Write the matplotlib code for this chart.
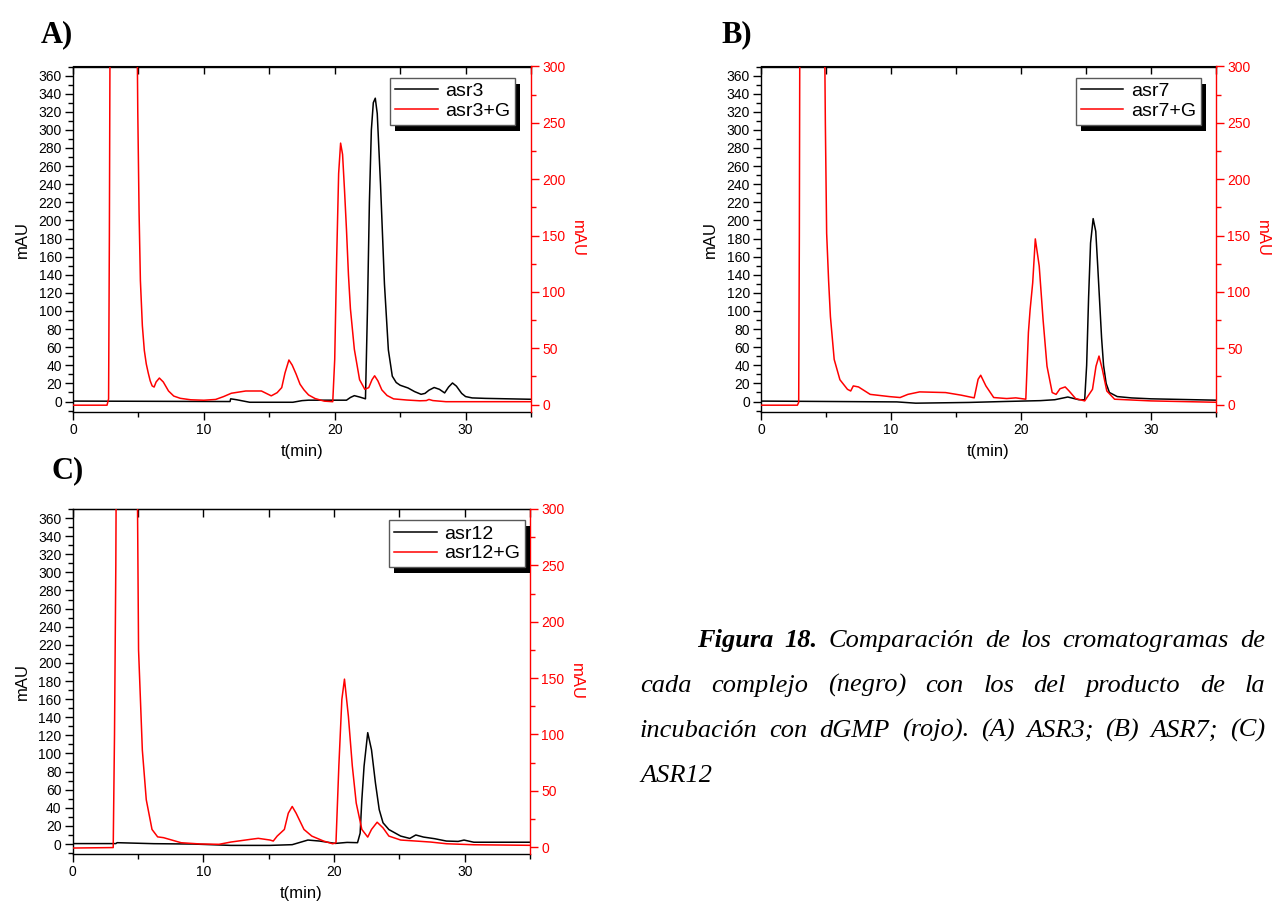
import numpy as np
import matplotlib
matplotlib.use("Agg")
import matplotlib.pyplot as plt
from matplotlib.patches import Rectangle
from matplotlib.ticker import MultipleLocator
from matplotlib.transforms import IdentityTransform

W, H = 1274, 906

plt.rcParams['font.family'] = ['Liberation Sans', 'DejaVu Sans']

# --- panel A: asr3 ---
A_t_black = [0, 12.0, 12.05, 12.5, 13.5, 16.8, 17.5, 18.0, 20.9, 21.2, 21.5, 21.9, 22.35, 22.5, 22.65,
             22.8, 22.95, 23.1, 23.25, 23.5, 23.8, 24.1, 24.4, 24.7, 25.0, 25.6, 26.1, 26.6, 26.9, 27.2,
             27.6, 28.0, 28.4, 28.7, 29.0, 29.3, 29.7, 30.0, 30.5, 31.5, 35.0]
A_black = [0.5, 0.0, 3.0, 2.0, -0.8, -0.8, 1.0, 1.5, 1.5, 4.5, 6.5, 5.0, 3.0, 100, 220,
           300, 330, 335, 318, 240, 130, 57, 28, 21, 18, 15, 11, 8, 9, 12.5,
           15.5, 13.5, 9.5, 16, 20.5, 17, 9, 5.5, 4, 3.5, 2.5]
A_t_red = [0, 2.6, 2.72, 2.78, 2.85, 4.85, 4.95, 5.05, 5.15, 5.3, 5.45, 5.6, 5.75, 5.9, 6.05, 6.2,
           6.35, 6.6, 6.9, 7.3, 7.7, 8.2, 9.0, 10.0, 10.9, 11.5, 12.1, 13.2, 14.4, 15.15, 15.6,
           15.95, 16.2, 16.5, 16.75, 17.05, 17.35, 17.65, 18.0, 18.5, 19.2, 19.85, 20.0, 20.15,
           20.3, 20.45, 20.6, 20.75, 20.9, 21.05, 21.2, 21.5, 21.9, 22.3, 22.6, 22.85, 23.05,
           23.3, 23.6, 24.0, 24.5, 25.5, 26.5, 27.0, 27.2, 27.5, 28.5, 35.0]
A_red = [-0.6, -0.6, 5, 150, 400, 400, 260, 170, 110, 70, 48, 36, 28, 21, 16.5, 15.5,
         20, 23.5, 20, 12, 7.5, 5.5, 4.2, 3.8, 4.5, 7, 10, 12, 12, 7.7, 10.5,
         15, 28, 39.5, 35, 27, 18, 13, 8.5, 5.3, 3, 2.5, 40, 130,
         205, 232, 222, 190, 155, 115, 85, 49, 22, 13.5, 15, 22, 25.5,
         21, 13, 8, 5, 4, 3.3, 3.5, 4.5, 3.5, 2.5, 2.5]

# --- panel B: asr7 ---
B_t_black = [0, 10.45, 11.9, 16.0, 18.6, 21.5, 22.6, 23.6, 24.45, 24.9, 25.05, 25.2, 25.35, 25.55,
             25.75, 25.9, 26.05, 26.2, 26.35, 26.55, 26.8, 27.4, 28.5, 30.0, 35.0]
B_black = [0.5, -0.4, -1.8, -1.0, 0.0, 1.0, 2.0, 5.0, 2.0, 2.0, 40, 115, 175, 202,
           188, 150, 110, 70, 40, 20, 10, 5.5, 4, 3, 1.5]
B_t_red = [0, 2.8, 2.9, 2.95, 3.0, 4.84, 4.95, 5.05, 5.2, 5.34, 5.63, 6.07, 6.65, 6.9, 7.1, 7.5,
           8.4, 9.9, 10.7, 11.3, 12.2, 14.2, 15.4, 16.4, 16.7, 16.9, 17.3, 17.9, 18.9, 19.6,
           20.37, 20.57, 20.7, 20.9, 21.1, 21.4, 21.7, 22.0, 22.4, 22.7, 23.0, 23.4, 23.7,
           24.2, 24.9, 25.5, 25.77, 26.0, 26.26, 26.6, 27.2, 30.0, 35.0]
B_red = [-0.6, -0.6, 2, 150, 400, 400, 250, 152, 110, 78, 40, 22, 13.5, 12, 16.5, 15.6,
         9, 7, 6.2, 9, 11.2, 10.6, 8.3, 5.9, 22.4, 26, 16.5, 6.2, 5.3, 5.9,
         4.7, 64, 84, 108, 147, 123, 75, 34, 10.6, 9, 14, 15.6, 12,
         5.3, 3.2, 13.5, 34, 43, 31, 12, 4.7, 3.2, 2.0]

# --- panel C: asr12 ---
C_t_black = [0, 3.3, 3.4, 6.2, 9.2, 12.1, 15.1, 16.8, 18.0, 18.9, 20.1, 21.0, 21.8, 22.0, 22.13,
             22.3, 22.58, 22.87, 23.17, 23.46, 23.75, 24.2, 25.1, 25.8, 26.26, 26.85, 27.7, 28.6,
             29.5, 29.95, 30.7, 35.0]
C_black = [0.5, 0.5, 1.5, 0.4, 0.0, -1.5, -1.5, -0.7, 4.4, 3.3, 0.7, 1.8, 1.5, 12, 49,
           86, 123, 104, 67.5, 38, 23.5, 16, 8.8, 6.2, 10, 7.7, 5.9, 3.3,
           2.9, 4.4, 2.0, 2.0]
C_t_red = [0, 3.1, 3.2, 3.3, 3.36, 4.9, 5.04, 5.33, 5.63, 6.07, 6.5, 6.95, 7.4, 8.3, 9.75, 11.2,
           12.1, 13.6, 14.2, 15.1, 15.35, 15.65, 16.2, 16.5, 16.8, 17.1, 17.7, 18.3, 19.2, 19.9,
           20.15, 20.37, 20.6, 20.8, 21.1, 21.4, 21.7, 22.13, 22.58, 22.87, 23.3, 23.75, 24.2,
           25.1, 26.26, 27.4, 28.6, 30.7, 35.0]
C_red = [-0.9, -0.5, 100, 250, 400, 400, 175, 86, 42, 15.6, 9, 8.3, 6.8, 3.8, 2.7, 2.4,
         4.4, 6.8, 7.7, 6.2, 5.3, 9.7, 15.6, 30, 36, 30, 15.6, 9.7, 5.3, 2.9,
         3.8, 72, 131, 149, 116, 72, 39, 15.6, 8.8, 15.6, 22, 17, 9.7,
         6.2, 5.3, 4.4, 2.9, 2.0, 1.5]

fig = plt.figure(figsize=(W / 100, H / 100), dpi=100)


def px_rect(x0, y0, x1, y1):
    return [x0 / W, 1 - y1 / H, (x1 - x0) / W, (y1 - y0) / H]


def draw_panel(rect, t_b, y_b, t_r, y_r, names):
    ax = fig.add_axes(rect)
    ax2 = ax.twinx()
    lb, = ax.plot(t_b, y_b, color='black', lw=1.1)
    lr, = ax2.plot(t_r, y_r, color='red', lw=1.1)

    ax.set_xlim(0, 35)
    ax.set_ylim(-11, 370)
    ax2.set_ylim(-6.2, 300)

    ax.xaxis.set_major_locator(MultipleLocator(10))
    ax.xaxis.set_minor_locator(MultipleLocator(5))
    ax.yaxis.set_major_locator(MultipleLocator(20))
    ax.yaxis.set_minor_locator(MultipleLocator(10))
    ax2.yaxis.set_major_locator(MultipleLocator(50))
    ax2.yaxis.set_minor_locator(MultipleLocator(25))

    ax.tick_params(which='major', direction='out', length=6, width=1, labelsize=10, pad=2)
    ax.tick_params(which='minor', direction='out', length=3.5, width=1)
    ax2.tick_params(which='major', direction='out', length=6, width=1, labelsize=10, pad=2,
                    colors='red')
    ax2.tick_params(which='minor', direction='out', length=3.5, width=1, colors='red')

    top = ax.secondary_xaxis('top')
    top.set_xticks(np.arange(0, 36, 5))
    top.tick_params(direction='in', length=6, width=1, labeltop=False)

    for s in ['left', 'bottom', 'top']:
        ax.spines[s].set_linewidth(1)
    ax.spines['right'].set_visible(False)
    ax2.spines['right'].set_color('red')
    ax2.spines['right'].set_linewidth(1)
    for s in ['left', 'bottom', 'top']:
        ax2.spines[s].set_visible(False)

    ax.set_xlabel('t(min)', fontsize=12, labelpad=5)
    ax.set_ylabel('mAU', fontsize=12, labelpad=6)
    ax2.set_ylabel('mAU', fontsize=12, color='red', rotation=270, labelpad=14)

    leg = ax2.legend([lb, lr], names, loc='upper left', bbox_to_anchor=(0.692, 0.968),
                     borderaxespad=0, fontsize=14, handlelength=2.2, handletextpad=0.4,
                     labelspacing=0.12, borderpad=0.25, fancybox=False, framealpha=1,
                     edgecolor='0.35')
    leg.get_frame().set_linewidth(1)
    return ax2, leg


panels = [
    (px_rect(73, 66.5, 531, 411.5), A_t_black, A_black, A_t_red, A_red, ['asr3', 'asr3+G']),
    (px_rect(761, 66.5, 1216, 411.5), B_t_black, B_black, B_t_red, B_red, ['asr7', 'asr7+G']),
    (px_rect(72.7, 509, 530, 854), C_t_black, C_black, C_t_red, C_red, ['asr12', 'asr12+G']),
]
legends = [draw_panel(*p) for p in panels]

# panel letters
for letter, x, y in [('A)', 41, 42), ('B)', 721, 42), ('C)', 52, 478)]:
    fig.text(x / W, 1 - y / H, letter, family='Liberation Serif', weight='bold', fontsize=22,
             va='baseline')

fig.canvas.draw()
renderer = fig.canvas.get_renderer()

# Origin style black shadow behind each legend
for ax2, leg in legends:
    bb = leg.get_frame().get_window_extent(renderer)
    shadow = Rectangle((bb.x0 + 5, bb.y0 - 6), bb.width, bb.height, transform=IdentityTransform(),
                       facecolor='black', edgecolor='none', zorder=4.5, clip_on=False)
    ax2.add_artist(shadow)

# justified caption
cap_lines = [
    ([('Figura', 'bold'), ('18.', 'bold'), ('Comparación', 'normal'), ('de', 'normal'),
      ('los', 'normal'), ('cromatogramas', 'normal'), ('de', 'normal')], 697, 1265, 647, True),
    ([(w, 'normal') for w in 'cada complejo (negro) con los del producto de la'.split()],
     640, 1265, 692, True),
    ([(w, 'normal') for w in 'incubación con dGMP (rojo). (A) ASR3; (B) ASR7; (C)'.split()],
     640, 1265, 737, True),
    ([('ASR12', 'normal')], 640, 1265, 782, False),
]
for words, x0, x1, y, just in cap_lines:
    texts = [fig.text(0, 1 - y / H, w, family='Liberation Serif', style='italic', weight=wt,
                      fontsize=19, va='baseline') for w, wt in words]
    widths = [t.get_window_extent(renderer).width for t in texts]
    if just and len(texts) > 1:
        gap = (x1 - x0 - sum(widths)) / (len(texts) - 1)
    else:
        gap = 5
    x = x0
    for t, w in zip(texts, widths):
        t.set_x(x / W)
        x += w + gap

fig.savefig('out.png', dpi=100)
